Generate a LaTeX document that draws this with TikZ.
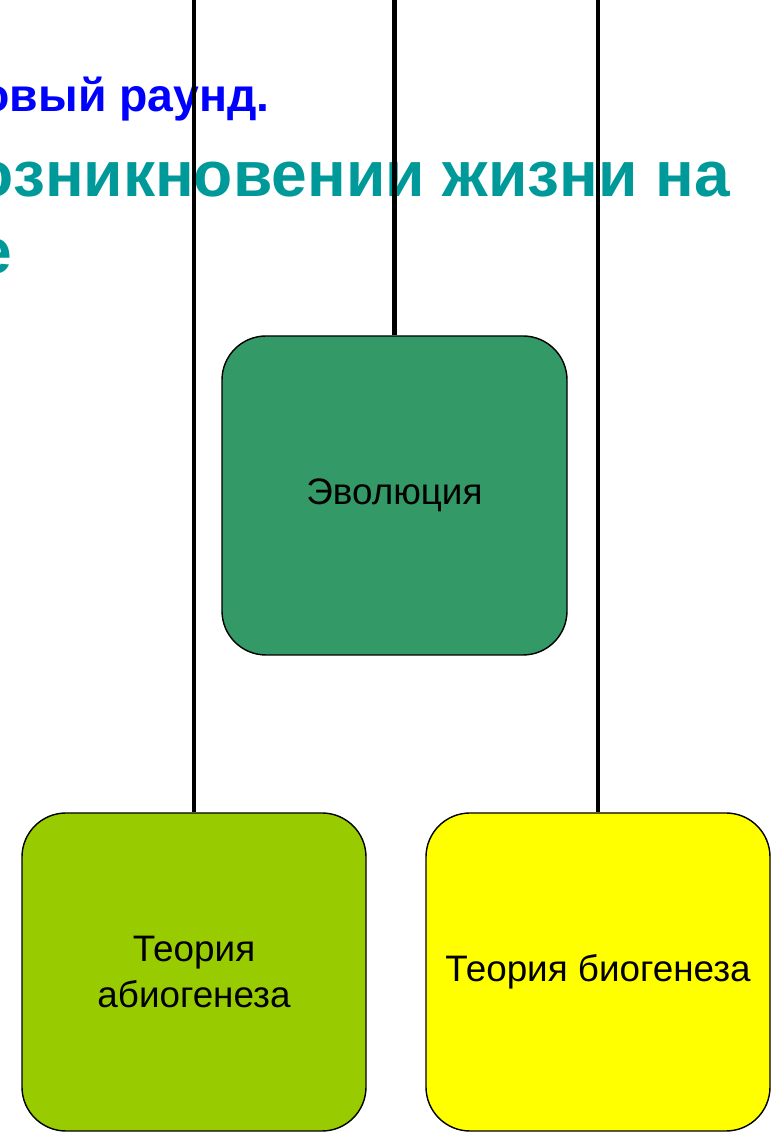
\documentclass[tikz,border=0pt]{standalone}
\usepackage{fontspec}
\setmainfont{Liberation Sans}
\definecolor{titleblue}{RGB}{0,0,255}
\definecolor{titleteal}{RGB}{0,153,153}
\definecolor{evogreen}{RGB}{51,153,102}
\definecolor{abiolime}{RGB}{153,204,0}
\definecolor{bioyellow}{RGB}{255,255,0}
\tikzset{
    theorybox/.style={draw=black, line width=1pt, rounded corners=1.1cm,
        minimum width=8.6cm, minimum height=7.95cm, inner sep=0pt,
        align=center, font=\fontsize{26.2}{33}\selectfont},
    heading/.style={anchor=base east, inner sep=0pt,
        font=\bfseries\fontsize{#1}{#1}\selectfont},
    branch/.style={line width=3pt, black},
}
\begin{document}
\begin{tikzpicture}
    % Page
    \useasboundingbox (0,0) rectangle (19.325,28.3);
    \coordinate (top) at (0,28.3);

    % Heading (cut at the left edge)
    \node (round) [heading=33, text=titleblue] at (6.75,25.5) {овый раунд.};
    \node (origin) [heading=45.6, text=titleteal] at (18.25,23.375) {озникновении жизни на};
    \node (earth) [heading=45.6, text=titleteal] at (0.3,21.45) {е};

    % Boxes
    \node (evo) [theorybox, fill=evogreen, minimum width=8.625cm,
        minimum height=7.975cm] at (9.8625,15.9125) {Эволюция};
    \node (abio) [theorybox, fill=abiolime] at (4.85,4.0) {Теория\\абиогенеза};
    \node (bio) [theorybox, fill=bioyellow] at (14.95,4.0) {Теория биогенеза};

    % Branches
    \draw [branch] (abio.north) -- (abio.north |- top);
    \draw [branch] (evo.north) -- (evo.north |- top);
    \draw [branch] (bio.north) -- (bio.north |- top);
\end{tikzpicture}
\end{document}
